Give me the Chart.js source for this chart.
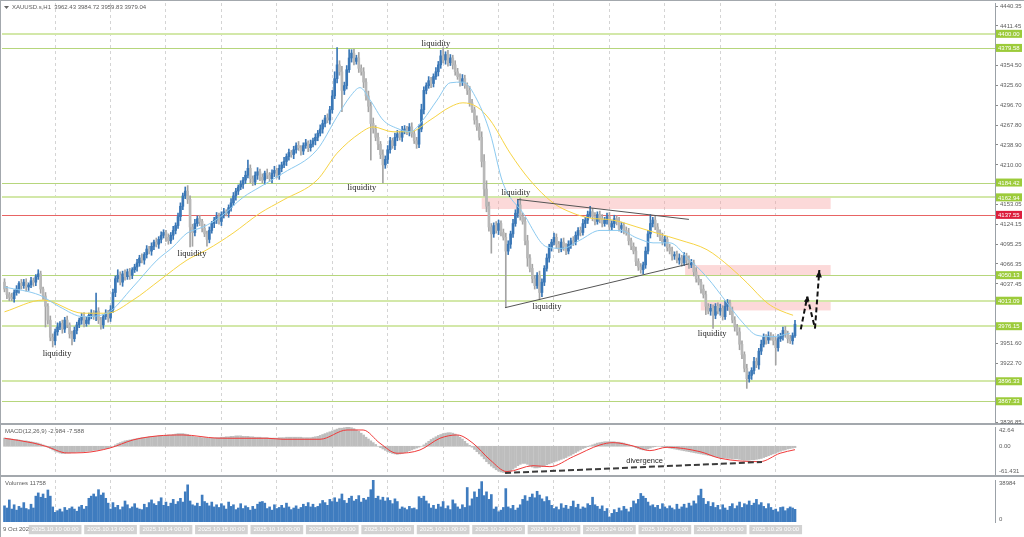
<!DOCTYPE html>
<html>
<head>
<meta charset="utf-8">
<title>XAUUSD H1</title>
<script src="https://cdn.jsdelivr.net/npm/chart.js@4.4.1/dist/chart.umd.min.js"></script>
<style>
  html, body { margin: 0; padding: 0; background: #fff; }
  #wrap { position: relative; width: 1024px; height: 537px; background: #fff; overflow: hidden; }
  #wrap canvas { position: absolute; left: 0; }
</style>
</head>
<body>
<div id="wrap">
  <canvas id="price" width="1024" height="425" style="top:0"></canvas>
  <canvas id="macd" width="1024" height="52" style="top:425px"></canvas>
  <canvas id="vol" width="1024" height="60" style="top:477px"></canvas>
</div>
<script>
// ---- data (H1 bars, index 0 = 9 Oct) ----
const symbol = 'XAUUSD.s,H1';
const firstOpen = 4040;
const closes = [
  4030, 4022, 4018, 4016, 4025, 4030, 4038, 4035, 4040, 4033,
  4036, 4042, 4040, 4048, 4052, 4030, 4020, 4005, 3985, 3960,
  3955, 3968, 3975, 3980, 3972, 3985, 3978, 3965, 3958, 3970,
  3978, 3985, 3990, 3980, 3985, 3992, 3995, 3990, 3998, 3985,
  3978, 3990, 3995, 3988, 4000, 4025, 4045, 4050, 4040, 4052,
  4048, 4055, 4050, 4058, 4062, 4068, 4075, 4072, 4080, 4088,
  4085, 4092, 4098, 4095, 4102, 4108, 4112, 4105, 4100, 4108,
  4115, 4122, 4135, 4150, 4165, 4172, 4160, 4120, 4112, 4125,
  4132, 4128, 4118, 4110, 4102, 4115, 4125, 4130, 4135, 4128,
  4138, 4142, 4140, 4148, 4155, 4165, 4172, 4178, 4182, 4188,
  4195, 4205, 4190, 4185, 4195, 4200, 4192, 4188, 4198, 4195,
  4190, 4198, 4202, 4195, 4205, 4210, 4215, 4222, 4228, 4225,
  4232, 4238, 4235, 4230, 4238, 4242, 4235, 4240, 4245, 4250,
  4256, 4262, 4270, 4278, 4275, 4290, 4310, 4335, 4355, 4345,
  4318, 4325, 4348, 4365, 4372, 4360, 4365, 4350, 4345, 4330,
  4310, 4295, 4270, 4262, 4250, 4240, 4225, 4210, 4218, 4232,
  4245, 4238, 4250, 4255, 4250, 4260, 4262, 4258, 4265, 4255,
  4245, 4240, 4262, 4290, 4318, 4325, 4332, 4328, 4338, 4345,
  4355, 4368, 4362, 4370, 4358, 4365, 4355, 4345, 4338, 4330,
  4335, 4325, 4318, 4300, 4290, 4275, 4265, 4250, 4215, 4175,
  4150, 4120, 4110, 4122, 4115, 4125, 4112, 4105, 4085, 4095,
  4110, 4125, 4140, 4152, 4135, 4128, 4100, 4075, 4060, 4045,
  4035, 4050, 4025, 4040, 4060, 4075, 4090, 4098, 4105, 4095,
  4088, 4098, 4092, 4085, 4095, 4100, 4098, 4108, 4115, 4112,
  4125, 4130, 4138, 4142, 4135, 4128, 4138, 4132, 4125, 4130,
  4135, 4120, 4125, 4132, 4128, 4118, 4122, 4115, 4112, 4100,
  4092, 4085, 4070, 4062, 4058, 4065, 4085, 4110, 4125, 4130,
  4120, 4112, 4105, 4098, 4102, 4090, 4085, 4078, 4080, 4072,
  4075, 4068, 4078, 4072, 4065, 4068, 4055, 4045, 4040, 4030,
  4022, 4005, 3998, 4002, 3992, 4005, 3998, 4002, 3990, 4005,
  4010, 3998, 3985, 3975, 3968, 3950, 3935, 3915, 3900, 3905,
  3912, 3925, 3920, 3940, 3950, 3960, 3956, 3962, 3960, 3955,
  3945, 3958, 3962, 3970, 3965, 3958, 3955, 3962.43, 3979.04
];
const wickUp = [
  5, 4, 3, 6, 4, 5, 3, 6, 4, 5,   3, 5, 4, 3, 6, 4, 3, 5, 4, 6,
  5, 4, 6, 3, 5, 4, 6, 3, 4, 5,   4, 3, 5, 6, 4, 3, 5, 4, 26, 5,
  4, 3, 5, 4, 6, 5, 4, 8, 5, 4,   6, 4, 5, 3, 4, 5, 4, 6, 3, 5,
  4, 5, 3, 6, 4, 5, 4, 3, 5, 4,   6, 4, 5, 5, 4, 6, 8, 5, 4, 6,
  4, 5, 3, 6, 4, 5, 3, 4, 6, 5,   4, 5, 3, 4, 6, 5, 4, 3, 5, 4,
  6, 12, 5, 4, 5, 6, 4, 5, 3, 6,  4, 5, 6, 3, 5, 4, 6, 4, 5, 3,
  5, 4, 6, 3, 4, 5, 3, 6, 4, 5,   4, 6, 5, 4, 6, 5, 8, 10, 25, 6,
  8, 5, 6, 12, 5, 6, 4, 8, 5, 6,  5, 7, 6, 8, 5, 6, 4, 7, 5, 6,
  5, 4, 6, 5, 4, 6, 5, 4, 5, 6,   4, 5, 6, 8, 5, 4, 6, 5, 4, 6,
  5, 8, 12, 4, 6, 5, 4, 6, 5, 4,  6, 5, 4, 6, 5, 4, 6, 5, 8, 10,
  12, 6, 5, 4, 6, 5, 4, 5, 6, 5,  4, 6, 5, 8, 10, 5, 6, 8, 5, 6,
  5, 4, 6, 5, 4, 6, 5, 4, 6, 5,   4, 5, 6, 4, 5, 4, 6, 5, 4, 5,
  6, 4, 5, 8, 5, 6, 4, 5, 6, 4,   5, 6, 4, 5, 4, 6, 5, 4, 5, 6,
  4, 5, 6, 4, 5, 4, 6, 5, 13, 4,  6, 5, 4, 6, 5, 4, 5, 6, 4, 5,
  6, 4, 5, 4, 6, 5, 4, 6, 5, 4,   6, 5, 4, 6, 5, 4, 5, 6, 4, 8,
  5, 4, 6, 5, 4, 6, 5, 4, 6, 5,   4, 6, 5, 4, 6, 5, 4, 6, 5, 4,
  5, 6, 4, 5, 6, 4, 5, 4, 5.68
];
const wickDn = [
  4, 6, 5, 3, 5, 4, 6, 5, 4, 6,   5, 4, 6, 5, 4, 6, 5, 30, 6, 5,
  9, 6, 5, 4, 6, 5, 4, 6, 9, 4,   5, 4, 6, 5, 4, 6, 5, 4, 6, 5,
  6, 5, 4, 6, 5, 4, 6, 5, 4, 6,   5, 4, 6, 5, 4, 6, 5, 4, 6, 5,
  4, 6, 5, 4, 6, 5, 4, 6, 5, 4,   6, 5, 4, 6, 5, 4, 6, 29, 20, 5,
  4, 6, 5, 4, 10, 5, 4, 6, 5, 4,  6, 5, 4, 6, 5, 4, 6, 5, 4, 6,
  5, 4, 6, 5, 4, 6, 5, 4, 6, 5,   4, 6, 5, 4, 6, 5, 4, 6, 5, 4,
  6, 5, 4, 6, 5, 4, 6, 5, 4, 6,   5, 4, 6, 5, 4, 6, 5, 4, 6, 5,
  31, 6, 5, 4, 6, 5, 4, 6, 5, 8,  6, 8, 53, 6, 5, 8, 6, 26, 5, 6,
  5, 4, 6, 5, 4, 6, 5, 4, 6, 5,   4, 6, 5, 4, 6, 5, 4, 6, 5, 4,
  6, 5, 4, 6, 5, 4, 6, 5, 4, 6,   5, 4, 6, 5, 4, 6, 5, 4, 8, 10,
  8, 6, 28, 5, 4, 6, 5, 4, 82, 5, 6, 5, 4, 6, 5, 4, 6, 12, 5, 6,
  5, 4, 10, 6, 5, 4, 6, 5, 4, 6,  5, 4, 6, 5, 4, 6, 5, 4, 6, 5,
  4, 6, 5, 4, 6, 5, 4, 6, 5, 4,   6, 5, 4, 6, 5, 4, 6, 5, 4, 6,
  5, 4, 6, 5, 5, 6, 5, 4, 6, 5,   4, 6, 5, 4, 6, 5, 4, 6, 5, 4,
  6, 5, 4, 6, 5, 4, 6, 5, 4, 6,   5, 12, 4, 6, 19, 5, 4, 6, 5, 4,
  6, 5, 4, 6, 5, 8, 6, 5, 14, 5,  6, 5, 4, 6, 5, 4, 6, 5, 4, 6,
  25, 5, 4, 6, 5, 6, 4, 5, 2.6
];
const volumes = [
  15000, 13000, 20500, 12000, 16000, 11000, 14500, 13000, 18000, 12500,
  11500, 16500, 13000, 24000, 27000, 23000, 26000, 22000, 29700, 24000,
  14000, 9000, 10500, 12000, 9500, 13500, 11000, 12500, 14000, 12000,
  10000, 14000, 15500, 12000, 14500, 22000, 24000, 26000, 23500, 30000,
  25000, 27000, 22000, 17500, 12000, 18000, 13500, 15500, 11500, 14000,
  19500, 16000, 12500, 14000, 17000, 13000, 12000, 11500, 16500, 13500,
  18000, 20500, 17000, 15500, 19000, 22500, 15500, 18500, 14500, 17500,
  21000, 16500, 19000, 22000, 18500, 28000, 34500, 19500, 16000, 15000,
  17500, 14500, 25000, 19000, 17500, 15000, 18500, 14000, 16000, 13500,
  17000, 15000, 12000, 18500, 14500, 16000, 11500, 13000, 17000, 12500,
  15000, 13500, 11000, 14500, 12000, 16500, 18500, 19000, 17500, 12500,
  14000, 11000, 16000, 12500, 13500, 15500, 13000, 17500, 14000, 11500,
  13000, 15000, 12000, 13500, 16500, 14500, 18000, 14000, 16500, 13500,
  14500, 17000, 20000, 18000, 15500, 21000, 19000, 22500, 18500, 21500,
  26000, 20000, 17500, 22000, 24000, 19500, 21000, 24500, 18500, 22000,
  20500, 23000, 30000, 38984, 22000, 24000, 20500, 23000, 19500, 22500,
  20000, 17000, 21500, 19000, 12000, 14000, 13000, 11500, 14500, 12500,
  13000, 11500, 23500, 22000, 24000, 19500, 17000, 13000, 15500, 12000,
  16500, 14000, 19000, 12500, 15000, 11500, 20500, 17000, 14000, 12000,
  16000, 13500, 32000, 15000, 21500, 28000, 23000, 30500, 37500, 24500,
  28000, 21000, 25500, 12000, 14000, 9500, 11000, 13500, 31000, 14000,
  12500, 15500, 11000, 13000, 16000, 21000, 24500, 19500, 23000, 26000,
  22500, 28500, 25000, 21500, 19000, 23500, 20000, 15500, 12500, 14000,
  11500, 17000, 13000, 15500, 12000, 14500, 19500, 13500, 16500, 12000,
  14000, 13000, 17000, 15500, 23000, 16000, 14500, 12000, 15000, 10000,
  12500, 4600, 8000, 11500, 9000, 13000, 10500, 14500, 12000, 9500,
  13500, 19500, 17000, 21000, 26500, 24000, 22000, 18500, 15000, 16000,
  13500, 15500, 12000, 17000, 14000, 12500, 15000, 13000, 11500, 16500,
  12000, 14000, 16500, 13000, 17500, 15000, 19500, 17000, 24500, 30500,
  22000, 16500, 19000, 14500, 18000, 13500, 15500, 11500, 16000, 13000,
  11000, 14500, 17000, 12500, 15000, 18500, 13500, 17000, 16000, 19500,
  15500, 17500, 21000, 16000, 18000, 14500, 12500, 17000, 13500, 11000,
  12000, 9500, 13500, 14000, 10500, 12500, 14000, 13000, 11758
];
const macdMain = [
  18, 17, 17, 16, 15, 15,
  14, 13, 12, 12, 11, 10, 9, 8, 7, 5, 3, 1,
  -2, -5, -8, -11, -13, -15, -16, -16, -15, -15, -14, -14, -13, -13,
  -12, -12, -11, -11, -10, -9, -9, -8, -7, -6, -5, -4, -2,
  0, 3, 6, 8, 10, 12, 13, 14, 15, 16, 17, 18, 19, 19, 20, 21,
  21, 22, 22, 23, 23, 24, 24, 25, 25, 26, 27, 28, 28, 28, 27, 26,
  24, 22, 21, 20, 20, 19, 19, 18, 18, 18, 18, 19, 19, 20,
  20, 21, 21, 22, 22, 23, 23, 23, 22, 22,
  22, 21, 21, 20, 20, 20, 19, 19, 19, 18,
  18, 18, 18, 19, 19, 19, 20, 20, 20, 20,
  20, 20, 20, 19, 19, 19, 19, 20, 21, 22, 24,
  26, 28, 30, 32, 34, 36, 38, 40, 40, 41, 42, 42, 41,
  39, 36, 33, 29, 25, 20, 16, 12, 8, 4, 0,
  -3, -6, -9, -12, -14, -16, -17, -18, -17, -16,
  -14, -12, -10, -8, -6, -4, -2, 0,
  3, 7, 11, 15, 18, 21, 24, 26, 28, 29, 30, 30, 29, 27,
  24, 20, 16, 11, 6, 2, -2,
  -7, -12, -17, -22, -28, -34, -39, -44, -48, -52, -55, -57, -58, -59, -58,
  -55, -51, -47, -43, -40, -38, -38,
  -40, -43, -46, -48, -48, -47, -45, -43,
  -41, -39, -37, -35, -33, -31, -29, -27, -25, -22, -20, -17, -14, -11, -8, -5, -3, -1,
  1, 3, 5, 7, 8, 9, 10, 10, 10, 10, 10, 9, 9, 8, 7, 5, 3, 1,
  -1, -3, -5, -7, -8, -8, -6, -4,
  -2, -1, 0, 0, -1, -2, -3,
  -4, -5, -6, -7, -8, -9, -10, -11, -12, -13, -14, -15, -16, -17,
  -18, -19, -20, -21, -22, -23, -24, -25, -26, -26, -27, -27, -28, -28,
  -28, -29, -30, -31, -31, -31, -30, -30, -29, -28, -27,
  -25, -23, -21, -19, -17, -15, -13, -11, -9, -8, -6, -5, -4, -2.984
];
// signal line, read as [bar, value]
const macdSignal = [
  [0, 17.7], [11.8, 7.3], [17.6, -0.9], [25.9, -14.8], [32.6, -14.2], [43.8, -3.8],
  [53.3, 13.9], [63.3, 22.8], [74.1, 25], [88.2, 18], [94.8, 17.7], [108.9, 17.7],
  [115.6, 15.5], [130.9, 15.5], [142.1, 36], [148.8, 36], [155.8, 6.6], [162.9, -15.5],
  [172.4, -8.2], [180.7, 17.7], [187.8, 25], [194.4, 6.6], [201.5, -30.3], [208.5, -56.2],
  [219.3, -43], [226.3, -45.2], [236, -23], [247.1, 2.9], [252.5, 8], [260.8, 0.7],
  [267.8, -9.7], [274.9, -2.2], [288.6, -12], [296.9, -26.6], [313.5, -34.1],
  [321.8, -15.5], [328, -7.588]
];
// moving averages, read as [bar, price]
const maFast = [
  [0, 4033], [14.7, 4021], [23, 4004], [32.6, 3990], [42.5, 3995], [53.3, 4033],
  [63.3, 4072], [69.9, 4091], [75.7, 4111], [82.4, 4120], [89.4, 4134], [99, 4163],
  [106, 4178], [115.6, 4198], [129.7, 4232], [138, 4280], [143.4, 4309], [147.5, 4322],
  [151.7, 4304], [157.1, 4275], [162.9, 4263], [168.3, 4258], [173.6, 4275], [179.5, 4304],
  [184.9, 4329], [190.2, 4330], [196.1, 4304], [201.5, 4256], [206.8, 4184], [215.2, 4140],
  [225.1, 4091], [231.7, 4089], [238.8, 4101], [247.1, 4115], [255.4, 4115], [262.4, 4104],
  [269.1, 4097], [276.1, 4097], [283.2, 4076], [291.5, 4047], [299.8, 4010], [306.4, 3981],
  [312.2, 3963], [318.9, 3961], [325.9, 3966]
];
const maSlow = [
  [0, 3997], [16, 4014], [32.6, 3995], [42.5, 3995], [53.3, 4014], [64.5, 4043],
  [75.7, 4072], [84, 4087], [94.8, 4111], [106, 4140], [115.6, 4159], [129.7, 4188],
  [138, 4227], [147.5, 4256], [152.9, 4265], [161.2, 4258], [168.3, 4258], [176.6, 4275],
  [184.9, 4294], [190.2, 4300], [196.1, 4294], [201.5, 4275], [209.8, 4227], [218, 4188],
  [227.6, 4155], [235.9, 4140], [242.9, 4133], [252.5, 4130], [262.4, 4120], [270.7, 4111],
  [280.3, 4101], [291.5, 4087], [301, 4062], [308.1, 4039], [316.4, 4010], [321.8, 3999],
  [327.2, 3992]
];
const priceTicks = [4440.35, 4411.45, 4354.50, 4325.60, 4296.70, 4267.80, 4238.90, 4210.00,
  4153.05, 4124.15, 4095.25, 4066.35, 4037.45, 3951.60, 3922.70, 3836.85];
const levels = [4400.00, 4379.58, 4184.42, 4162.94, 4137.55, 4050.13, 4013.09, 3976.15, 3896.33, 3867.33];
const zones = [[198, 342.8, 4162.94, 4146], [282.4, 342.8, 4064.8, 4050.13], [288.9, 342.8, 4013.09, 3999]];
const trendLines = [[[212.7, 4160], [284, 4131]], [[207.7, 4003], [284, 4066.5]]];
const liquidityAt = [[21.8, 3935.8], [77.8, 4080.8], [148.3, 4176.5], [179, 4385.3],
  [212.2, 4169.2], [225.1, 4004], [293.6, 3964.8]];
const arrowPath = [[330.4, 3971.6], [333.1, 4019], [336.3, 3973], [338.1, 4057.6]];
const divergence = [[207.7, -59.2], [314.3, -34.9]];
const divergenceLabel = [265.6, -32.6];
const dayStarts = [21, 44, 67, 90, 113, 136, 159, 182, 205, 228, 251, 274, 297, 320];
const dayLabels = ['2025.10.10 00:00', '2025.10.13 00:00', '2025.10.14 00:00', '2025.10.15 00:00',
  '2025.10.16 00:00', '2025.10.17 00:00', '2025.10.20 00:00', '2025.10.21 00:00', '2025.10.22 00:00',
  '2025.10.23 00:00', '2025.10.24 00:00', '2025.10.27 00:00', '2025.10.28 00:00', '2025.10.29 00:00'];
const macdTicks = [42.64, 0, -61.431];
const macdTickLabels = ['42.64', '0.00', '-61.431'];
const volTicks = [38984, 0];
const volTickLabels = ['38984', '0'];

// ---- look ----
const FONT = "'Liberation Sans', Arial, sans-serif";
const X_MIN = -1.04, X_MAX = 410.99;
const P_MIN = 3835.83, P_MAX = 4444.70;
const BULL = '#3a77b6', BEAR = '#b8b8b8', BEAR_WICK = '#a4a4a4';
const FRAME = '#a3a8ad';
const softLevels = [4400.00, 4162.94, 4013.09, 3976.15, 3896.33];
const redLevel = 4137.55;

Chart.defaults.font.family = FONT;
Chart.defaults.font.size = 6;
Chart.defaults.color = '#5c5c5c';

const opens = closes.map((c, i) => (i === 0 ? firstOpen : closes[i - 1]));
const highs = closes.map((c, i) => Math.max(opens[i], c) + wickUp[i]);
const lows = closes.map((c, i) => Math.min(opens[i], c) - wickDn[i]);
const isUp = closes.map((c, i) => c >= opens[i]);
const last = closes.length - 1;

function timeAxis(withLabels) {
  return {
    type: 'linear', min: X_MIN, max: X_MAX, offset: false,
    afterBuildTicks: s => { s.ticks = dayStarts.map(v => ({ value: v })); },
    grid: { color: '#d4d4d4', lineWidth: 1, drawTicks: false, offset: false },
    border: { display: false, dash: [3, 3] },
    ticks: withLabels ? {
      autoSkip: false, maxRotation: 0, padding: 4, color: '#ffffff',
      showLabelBackdrop: true, backdropColor: '#d2d2d2', backdropPadding: { x: 3, y: 1 },
      callback: (v, i) => dayLabels[i]
    } : { display: false },
    afterFit: s => { s.height = withLabels ? 15 : 0; s.paddingLeft = 0; s.paddingRight = 0; }
  };
}

function sideAxis(min, max) {
  return {
    position: 'right', min, max,
    ticks: { display: false },
    grid: { display: false },
    border: { display: true, color: '#9ba1a7' },
    afterFit: s => { s.width = 29; s.paddingTop = 0; s.paddingBottom = 0; }
  };
}

function paintBack(ch, sepY) {
  const c = ch.ctx;
  c.save();
  c.fillStyle = '#fff';
  c.fillRect(0, 0, ch.width, ch.height);
  c.fillStyle = FRAME;
  c.fillRect(0, 0, 1, ch.height);
  if (sepY != null) c.fillRect(0, sepY, ch.width, 2);
  c.restore();
}

function sideLabels(ch, axis, values, labels) {
  const c = ch.ctx, s = ch.scales[axis];
  c.save();
  c.fillStyle = '#5c5c5c';
  c.font = '6px ' + FONT;
  c.textAlign = 'left';
  c.textBaseline = 'middle';
  values.forEach((v, k) => {
    let y = s.getPixelForValue(v);
    if (k === 0) y += 3.5;
    else if (k === values.length - 1) y -= 3;
    c.fillText(labels[k], 999, y);
  });
  c.restore();
}

function arrowHead(c, x0, y0, x1, y1, size) {
  const a = Math.atan2(y1 - y0, x1 - x0);
  c.beginPath();
  c.moveTo(x1, y1);
  c.lineTo(x1 - size * Math.cos(a - 0.4), y1 - size * Math.sin(a - 0.4));
  c.lineTo(x1 - size * Math.cos(a + 0.4), y1 - size * Math.sin(a + 0.4));
  c.closePath();
  c.fill();
}

const priceDecor = {
  id: 'priceDecor',
  beforeDraw(ch) {
    paintBack(ch, 423);
    ch.ctx.fillStyle = FRAME;
    ch.ctx.fillRect(0, 0, ch.width, 1);
  },
  beforeDatasetsDraw(ch) {
    const c = ch.ctx, x = ch.scales.x, y = ch.scales.y, a = ch.chartArea;
    c.save();
    c.beginPath();
    c.rect(a.left, a.top, a.right - a.left, a.bottom - a.top);
    c.clip();
    c.fillStyle = 'rgba(248,160,160,0.4)';
    zones.forEach(z => {
      const x0 = x.getPixelForValue(z[0]), x1 = x.getPixelForValue(z[1]);
      const y0 = y.getPixelForValue(z[2]), y1 = y.getPixelForValue(z[3]);
      c.fillRect(x0, y0, x1 - x0, y1 - y0);
    });
    levels.forEach(v => {
      const py = Math.round(y.getPixelForValue(v));
      const soft = softLevels.includes(v);
      c.strokeStyle = v === redLevel ? '#e86464' : (soft ? '#d3e8a9' : '#b6d67c');
      c.lineWidth = soft ? 2 : 1;
      c.beginPath();
      c.moveTo(a.left, soft ? py : py + 0.5);
      c.lineTo(a.right, soft ? py : py + 0.5);
      c.stroke();
    });
    c.restore();
  },
  afterDatasetsDraw(ch) {
    const c = ch.ctx, x = ch.scales.x, y = ch.scales.y;
    const P = p => [x.getPixelForValue(p[0]), y.getPixelForValue(p[1])];
    c.save();
    c.strokeStyle = '#555';
    c.lineWidth = 1;
    trendLines.forEach(t => {
      const a = P(t[0]), b = P(t[1]);
      c.beginPath(); c.moveTo(a[0], a[1]); c.lineTo(b[0], b[1]); c.stroke();
    });
    c.fillStyle = '#1e1e1e';
    c.font = "8.5px 'Liberation Serif', serif";
    c.textAlign = 'center';
    c.textBaseline = 'middle';
    liquidityAt.forEach(p => { const q = P(p); c.fillText('liquidity', q[0], q[1]); });
    // dashed zig-zag arrows
    const pts = arrowPath.map(P);
    c.strokeStyle = '#111';
    c.fillStyle = '#111';
    c.lineWidth = 2;
    c.setLineDash([5, 3]);
    for (let k = 0; k < pts.length - 1; k++) {
      c.beginPath(); c.moveTo(pts[k][0], pts[k][1]); c.lineTo(pts[k + 1][0], pts[k + 1][1]); c.stroke();
    }
    c.setLineDash([]);
    arrowHead(c, pts[0][0], pts[0][1], pts[1][0], pts[1][1], 6);
    arrowHead(c, pts[2][0], pts[2][1], pts[3][0], pts[3][1], 8);
    c.restore();
  },
  afterDraw(ch) {
    const c = ch.ctx, y = ch.scales.y;
    c.save();
    // header
    c.fillStyle = '#666';
    c.beginPath(); c.moveTo(4, 6); c.lineTo(9, 6); c.lineTo(6.5, 9); c.closePath(); c.fill();
    c.fillStyle = '#5c5c5c';
    c.font = '6px ' + FONT;
    c.textAlign = 'left';
    c.textBaseline = 'middle';
    const ohlc = [opens[last], highs[last], lows[last], closes[last]].map(v => v.toFixed(2)).join(' ');
    c.fillText(symbol + '  ' + ohlc, 12, 7.5);
    // level tags on the price axis
    levels.forEach(v => {
      const py = y.getPixelForValue(v);
      c.fillStyle = v === redLevel ? '#dc1e3c' : '#9ccb3a';
      c.fillRect(996, py - 4, 26, 8);
      c.fillStyle = '#fff';
      c.fillText(v.toFixed(2), 998, py + 0.5);
    });
    c.restore();
  }
};

new Chart(document.getElementById('price'), {
  type: 'bar',
  data: {
    datasets: [
      { type: 'line', data: maFast.map(p => ({ x: p[0], y: p[1] })), borderColor: '#8ccaf0', borderWidth: 1,
        pointRadius: 0, cubicInterpolationMode: 'monotone', order: 0 },
      { type: 'line', data: maSlow.map(p => ({ x: p[0], y: p[1] })), borderColor: '#f7d444', borderWidth: 1,
        pointRadius: 0, cubicInterpolationMode: 'monotone', order: 0 },
      { data: closes.map((c, i) => ({ x: i, y: [opens[i], c] })), backgroundColor: isUp.map(u => (u ? BULL : BEAR)),
        barThickness: 2, maxBarThickness: 2, minBarLength: 1, grouped: false, order: 1 },
      { data: closes.map((c, i) => ({ x: i, y: [lows[i], highs[i]] })), backgroundColor: isUp.map(u => (u ? BULL : BEAR_WICK)),
        barThickness: 1, maxBarThickness: 1, grouped: false, order: 2 }
    ]
  },
  options: {
    responsive: false, animation: false,
    layout: { padding: { left: 2, top: 3, right: 0, bottom: 2 } },
    plugins: { legend: { display: false }, tooltip: { enabled: false } },
    scales: {
      x: timeAxis(false),
      y: {
        position: 'right', min: P_MIN, max: P_MAX,
        afterBuildTicks: s => { s.ticks = priceTicks.map(v => ({ value: v })); },
        ticks: { autoSkip: false, padding: 2, color: '#5c5c5c', callback: v => v.toFixed(2) },
        grid: { drawOnChartArea: false, drawTicks: true, tickLength: 3, color: '#8a8a8a' },
        border: { display: true, color: '#9ba1a7' },
        afterFit: s => { s.width = 29; s.paddingTop = 0; s.paddingBottom = 0; }
      }
    }
  },
  plugins: [priceDecor]
});

const macdDecor = {
  id: 'macdDecor',
  beforeDraw(ch) { paintBack(ch, 50); },
  afterDraw(ch) {
    const c = ch.ctx, x = ch.scales.x, y = ch.scales.y;
    const P = p => [x.getPixelForValue(p[0]), y.getPixelForValue(p[1])];
    c.save();
    const a = P(divergence[0]), b = P(divergence[1]);
    c.strokeStyle = '#3c3c3c';
    c.lineWidth = 2;
    c.setLineDash([6, 3]);
    c.beginPath(); c.moveTo(a[0], a[1]); c.lineTo(b[0], b[1]); c.stroke();
    c.setLineDash([]);
    const t = P(divergenceLabel);
    c.fillStyle = '#2a2a2a';
    c.font = "7.5px 'Liberation Sans', sans-serif";
    c.textAlign = 'center';
    c.textBaseline = 'middle';
    c.fillText('divergence', t[0], t[1]);
    c.fillStyle = '#5c5c5c';
    c.font = '6px ' + FONT;
    c.textAlign = 'left';
    const sig = macdSignal[macdSignal.length - 1][1];
    c.fillText('MACD(12,26,9) ' + macdMain[last] + ' ' + sig, 5, 6);
    c.restore();
    sideLabels(ch, 'y', macdTicks, macdTickLabels);
  }
};

new Chart(document.getElementById('macd'), {
  type: 'bar',
  data: {
    datasets: [
      { type: 'line', data: macdSignal.map(p => ({ x: p[0], y: p[1] })), borderColor: '#f03a3a', borderWidth: 1,
        pointRadius: 0, cubicInterpolationMode: 'monotone', order: 0 },
      { data: macdMain.map((v, i) => ({ x: i, y: v })), backgroundColor: '#bdbdbd',
        barThickness: 2, maxBarThickness: 2, grouped: false, order: 1 }
    ]
  },
  options: {
    responsive: false, animation: false,
    layout: { padding: { left: 2, top: 2, right: 0, bottom: 3 } },
    plugins: { legend: { display: false }, tooltip: { enabled: false } },
    scales: { x: timeAxis(false), y: sideAxis(macdTicks[2], macdTicks[0]) }
  },
  plugins: [macdDecor]
});

const volDecor = {
  id: 'volDecor',
  beforeDraw(ch) {
    paintBack(ch, null);
    const c = ch.ctx;
    c.save();
    c.fillStyle = '#5c5c5c';
    c.font = '6px ' + FONT;
    c.textAlign = 'left';
    c.textBaseline = 'middle';
    c.fillText('9 Oct 2025', 3, 52.5);
    c.restore();
  },
  afterDraw(ch) {
    const c = ch.ctx;
    c.save();
    c.fillStyle = '#5c5c5c';
    c.font = '6px ' + FONT;
    c.textAlign = 'left';
    c.textBaseline = 'middle';
    c.fillText('Volumes ' + volumes[last], 5, 6);
    c.restore();
    sideLabels(ch, 'y', volTicks, volTickLabels);
  }
};

new Chart(document.getElementById('vol'), {
  type: 'bar',
  data: {
    datasets: [
      { data: volumes.map((v, i) => ({ x: i, y: v })), backgroundColor: '#3f7cbf',
        barThickness: 2, maxBarThickness: 2, grouped: false }
    ]
  },
  options: {
    responsive: false, animation: false,
    layout: { padding: { left: 2, top: 3, right: 0, bottom: 0 } },
    plugins: { legend: { display: false }, tooltip: { enabled: false } },
    scales: { x: timeAxis(true), y: sideAxis(volTicks[1], volTicks[0]) }
  },
  plugins: [volDecor]
});
</script>
</body>
</html>
